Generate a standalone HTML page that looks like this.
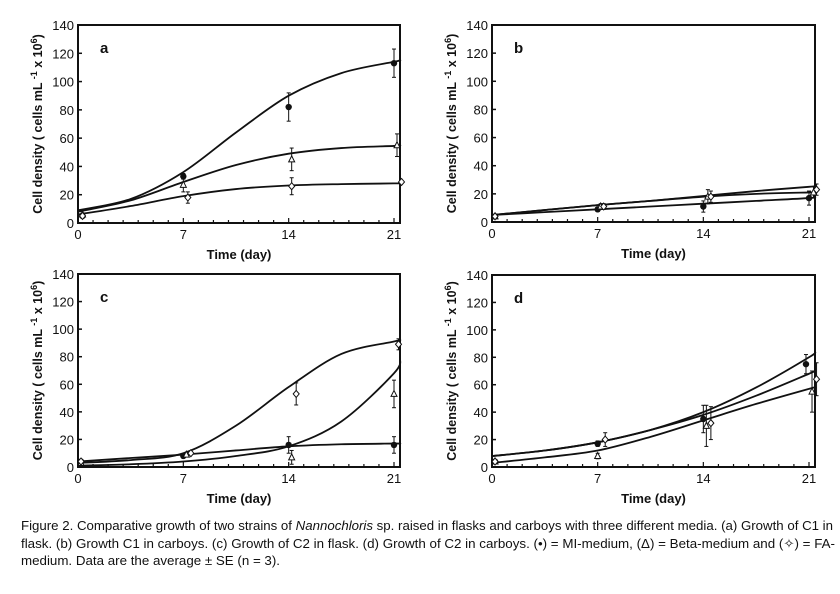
<!DOCTYPE html>
<html><head><meta charset="utf-8"><style>
body{margin:0;background:#fff}
svg{display:block}
text{font-family:"Liberation Sans",sans-serif;fill:#111}
</style></head><body>
<svg id="fig" width="840" height="594" viewBox="0 0 840 594">
<g id="panels"></g>
<g font-size="13">
<text x="21" y="530" textLength="812" lengthAdjust="spacingAndGlyphs">Figure 2. Comparative growth of two strains of <tspan font-style="italic">Nannochloris</tspan> sp. raised in flasks and carboys with three different media. (a) Growth of C1 in</text>
<text x="21" y="548" textLength="814" lengthAdjust="spacingAndGlyphs">flask. (b) Growth C1 in carboys. (c) Growth of C2 in flask. (d) Growth of C2 in carboys. (•) = MI-medium, (Δ) = Beta-medium and (✧) = FA-</text>
<text x="21" y="565" textLength="259" lengthAdjust="spacingAndGlyphs">medium. Data are the average ± SE (n = 3).</text>
</g>
</svg>
<script>
const curveDays=[0,3.5,7,10.5,14,17.5,21,21.4];
const yTicks=[0,20,40,60,80,100,120,140];
const xTicks=[0,7,14,21];
// panel a
const aCurveMI=[9,17,36,64,90,106,114,115];
const aCurveBeta=[8,16,29,41,49,53,54.5,55];
const aCurveFA=[6,12,19,24,26.5,27.5,28,28];
const aPtsMI=[[0.3,5,1],[7,33,2],[14,82,10],[21,113,10]];
const aPtsBeta=[[0.3,6,1],[7,27,5],[14.2,45,8],[21.2,55,8]];
const aPtsFA=[[0.3,5,1],[7.3,18,4],[14.2,26,6],[21.5,29,1]];
// panel b
const bCurveMI=[5,7,9,11,13,15,17,18];
const bCurveBeta=[5,8.5,12,15,18,20,21,21];
const bCurveFA=[5,8.5,12,15,18.5,22,25,25.5];
const bPtsMI=[[0.2,4,1],[7,9,1],[14,11,4],[21,17,5]];
const bPtsBeta=[[0.2,4,1],[7.2,11,2],[14.3,18,5],[21.3,21,4]];
const bPtsFA=[[0.2,4,1],[7.4,11,2],[14.5,18,4],[21.5,23,4]];
// panel c
const cCurveMI=[4,6.5,9,12,15,16.5,17,17];
const cCurveBeta=[1,2,4,8,15,33,68,79];
const cCurveFA=[3,5,10,30,58,82,91,92];
const cPtsMI=[[0.2,4,1],[7,8,1],[14,16,6],[21,16,6]];
const cPtsBeta=[[0.2,3,1],[7.2,9,1],[14.2,7,5],[21,53,10]];
const cPtsFA=[[0.2,4,1],[7.5,10,1],[14.5,53,8],[21.3,89,4]];
// panel d
const dCurveMI=[8,12,18,27,40,58,80,84];
const dCurveBeta=[3,7,12,22,34,46,57,58];
const dCurveFA=[8,12,18,27,38,52,68,70];
const dPtsMI=[[0.2,4,1],[7,17,2],[14,35,10],[20.8,75,7]];
const dPtsBeta=[[0.2,4,1],[7,8,2],[14.2,30,15],[21.2,55,15]];
const dPtsFA=[[0.2,4,1],[7.5,20,5],[14.5,32,12],[21.5,64,12]];

const panels=[
 {id:'a',x0:78,right:400,top:25,bot:223,curves:[aCurveMI,aCurveBeta,aCurveFA],pts:[aPtsMI,aPtsBeta,aPtsFA]},
 {id:'b',x0:492,right:815,top:25,bot:222,curves:[bCurveMI,bCurveBeta,bCurveFA],pts:[bPtsMI,bPtsBeta,bPtsFA]},
 {id:'c',x0:78,right:400,top:274,bot:467,curves:[cCurveMI,cCurveBeta,cCurveFA],pts:[cPtsMI,cPtsBeta,cPtsFA]},
 {id:'d',x0:492,right:815,top:275,bot:467,curves:[dCurveMI,dCurveBeta,dCurveFA],pts:[dPtsMI,dPtsBeta,dPtsFA]}
];
const NS='http://www.w3.org/2000/svg';
function mk(tag,attrs,parent){const e=document.createElementNS(NS,tag);for(const k in attrs)e.setAttribute(k,attrs[k]);parent.appendChild(e);return e;}
const root=document.getElementById('panels');
const names=['mi','beta','fa'];
panels.forEach(p=>{
 const ppd=(p.right-6-p.x0)/21;
 const X=d=>p.x0+d*ppd;
 const Y=v=>p.bot-(v/140)*(p.bot-p.top);
 const g=mk('g',{},root);
 
 
 const frame=mk('rect',{x:p.x0,y:p.top,width:p.right-p.x0,height:p.bot-p.top,fill:'none',stroke:'#111','stroke-width':2},g);
 
 
 yTicks.forEach(t=>{
  mk('line',{x1:p.x0,x2:p.x0+4,y1:Y(t),y2:Y(t),stroke:'#111','stroke-width':1.5},g);
  const tx=mk('text',{x:p.x0-4,y:Y(t)+5,'text-anchor':'end','font-size':13},g);
  tx.textContent=t;
  
  
 });
 for(let d=1;d<=21;d++){mk('line',{x1:X(d),x2:X(d),y1:p.bot,y2:p.bot-(d%7==0?5:3),stroke:'#111','stroke-width':1.2},g);}
 xTicks.forEach(t=>{
  const tx=mk('text',{x:X(t),y:p.bot+16,'text-anchor':'middle','font-size':13},g);
  tx.textContent=t;
  
  
 });
 const xt=mk('text',{x:(p.x0+p.right)/2,y:p.bot+36,'text-anchor':'middle','font-size':13,'font-weight':'bold'},g);
 xt.textContent='Time (day)';
 
 
 const yt=mk('text',{transform:`translate(${p.x0-36},${(p.top+p.bot)/2}) rotate(-90)`,'text-anchor':'middle','font-size':12.5,'font-weight':'bold'},g);
 yt.innerHTML='Cell density ( cells mL <tspan dy="-5" font-size="9">-1</tspan><tspan dy="5"> x 10</tspan><tspan dy="-5" font-size="9">6</tspan><tspan dy="5">)</tspan>';
 
 
 const lab=mk('text',{x:p.x0+22,y:p.top+28,'font-size':15,'font-weight':'bold'},g);
 lab.textContent=p.id;
 
 
 p.curves.forEach((c,i)=>{
  const P=curveDays.map((d,j)=>[X(d),Y(c[j])]);
  let s=`M${P[0][0]},${P[0][1]}`;
  for(let j=0;j<P.length-1;j++){
   const p0=P[Math.max(j-1,0)],p1=P[j],p2=P[j+1],p3=P[Math.min(j+2,P.length-1)];
   s+=` C${p1[0]+(p2[0]-p0[0])/6},${p1[1]+(p2[1]-p0[1])/6} ${p2[0]-(p3[0]-p1[0])/6},${p2[1]-(p3[1]-p1[1])/6} ${p2[0]},${p2[1]}`;
  }
  const path=mk('path',{d:s,fill:'none',stroke:'#111','stroke-width':1.8},g);
  
  
 });
 p.pts.forEach((arr,i)=>{
  arr.forEach(([d,v,e])=>{
   const cx=X(d),cy=Y(v);
   const eg=mk('g',{},g);
   
   
   mk('line',{x1:cx,x2:cx,y1:Y(v+e),y2:Y(v-e),stroke:'#111','stroke-width':1},eg);
   mk('line',{x1:cx-2,x2:cx+2,y1:Y(v+e),y2:Y(v+e),stroke:'#111','stroke-width':1},eg);
   mk('line',{x1:cx-2,x2:cx+2,y1:Y(v-e),y2:Y(v-e),stroke:'#111','stroke-width':1},eg);
   if(i==0) mk('circle',{cx,cy,r:3.2,fill:'#111'},eg);
   else if(i==1) mk('path',{d:`M${cx},${cy-3.5}L${cx+3},${cy+2.5}L${cx-3},${cy+2.5}Z`,fill:'#fff',stroke:'#111','stroke-width':1},eg);
   else mk('path',{d:`M${cx},${cy-3.5}L${cx+3},${cy}L${cx},${cy+3.5}L${cx-3},${cy}Z`,fill:'#fff',stroke:'#111','stroke-width':1},eg);
  });
 });
});
</script>
</body></html>
